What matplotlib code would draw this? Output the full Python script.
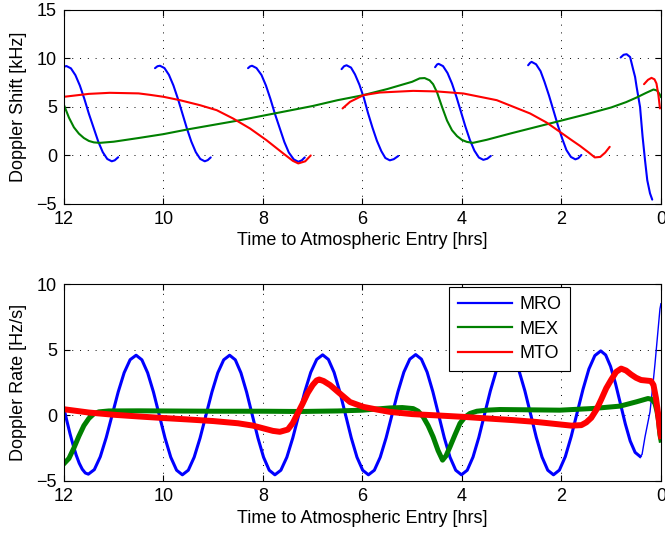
import matplotlib
matplotlib.use("Agg")
import matplotlib.pyplot as plt
from matplotlib.lines import Line2D

plt.rcParams['font.family'] = ['Liberation Sans', 'DejaVu Sans']
plt.rcParams['font.size'] = 13
plt.rcParams['lines.solid_joinstyle'] = 'round'

# ---------------- data: top panel (Doppler shift, kHz) ----------------
mro_shift_t = [
    [12.0, 11.95, 11.86, 11.77, 11.68, 11.59, 11.50, 11.40, 11.31, 11.22, 11.13, 11.04, 10.98, 10.91],
    [10.17, 10.12, 10.07, 9.98, 9.89, 9.80, 9.71, 9.62, 9.53, 9.44, 9.35, 9.26, 9.17, 9.11, 9.05],
    [8.30, 8.26, 8.22, 8.13, 8.03, 7.94, 7.85, 7.76, 7.66, 7.57, 7.48, 7.38, 7.29, 7.22, 7.16],
    [6.42, 6.37, 6.32, 6.23, 6.15, 6.06, 5.97, 5.89, 5.80, 5.71, 5.62, 5.54, 5.45, 5.37, 5.28],
    [4.54, 4.50, 4.47, 4.38, 4.29, 4.20, 4.11, 4.02, 3.93, 3.84, 3.75, 3.66, 3.57, 3.49, 3.42],
    [2.67, 2.63, 2.60, 2.51, 2.42, 2.34, 2.25, 2.16, 2.07, 1.98, 1.90, 1.81, 1.72, 1.66, 1.60],
    [0.81, 0.75, 0.69, 0.62, 0.56, 0.52, 0.49, 0.42, 0.37, 0.32, 0.275, 0.22, 0.175],
]
mro_shift_v = [
    [9.15, 9.22, 8.98, 8.28, 7.20, 5.83, 4.31, 2.79, 1.42, 0.34, -0.36, -0.60, -0.50, -0.18],
    [9.0, 9.2, 9.25, 9.01, 8.31, 7.22, 5.85, 4.33, 2.80, 1.43, 0.34, -0.36, -0.60, -0.48, -0.20],
    [9.0, 9.18, 9.25, 9.01, 8.30, 7.21, 5.83, 4.30, 2.77, 1.39, 0.30, -0.41, -0.65, -0.50, -0.20],
    [8.9, 9.2, 9.30, 9.06, 8.36, 7.28, 5.91, 4.40, 2.89, 1.52, 0.44, -0.26, -0.50, -0.38, -0.05],
    [9.1, 9.38, 9.45, 9.21, 8.50, 7.41, 6.03, 4.50, 2.97, 1.59, 0.50, -0.21, -0.45, -0.33, -0.05],
    [9.3, 9.55, 9.65, 9.40, 8.69, 7.58, 6.18, 4.63, 3.07, 1.67, 0.56, -0.15, -0.40, -0.28, 0.05],
    [10.1, 10.38, 10.44, 10.15, 8.9, 8.1, 7.1, 5.0, 2.0, -0.5, -2.55, -3.9, -4.55],
]

mex_shift_t = [12.0, 11.9, 11.8, 11.7, 11.6, 11.5, 11.4, 11.28, 11.0, 10.5, 10.0, 9.5, 9.0, 8.5,
               8.0, 7.5, 7.0, 6.5, 6.0, 5.5, 5.2, 5.0, 4.85, 4.75, 4.65, 4.58, 4.5, 4.4, 4.3,
               4.2, 4.1, 4.0, 3.9, 3.78, 3.5, 3.0, 2.5, 2.0, 1.5, 1.0, 0.7, 0.5, 0.3, 0.15,
               0.08, 0.03, 0.0]
mex_shift_v = [5.2, 3.9, 2.9, 2.25, 1.8, 1.5, 1.35, 1.3, 1.42, 1.8, 2.2, 2.7, 3.15, 3.6,
               4.1, 4.6, 5.1, 5.7, 6.2, 6.85, 7.3, 7.6, 7.95, 7.98, 7.75, 7.35, 6.5, 5.0, 3.6,
               2.6, 2.0, 1.6, 1.4, 1.3, 1.62, 2.3, 2.95, 3.6, 4.25, 4.95, 5.5, 5.95, 6.45, 6.8,
               6.7, 6.35, 6.04]

mto_shift_t = [
    [12.0, 11.5, 11.08, 10.5, 10.27, 10.0, 9.67, 9.27, 8.93, 8.60, 8.26, 7.93, 7.59, 7.40, 7.29, 7.15, 7.04],
    [6.40, 6.25, 5.98, 5.65, 4.98, 4.5, 3.97, 3.30, 2.63, 2.30, 2.03, 1.80, 1.63, 1.45, 1.33, 1.22, 1.12, 1.03],
    [0.34, 0.26, 0.19, 0.13, 0.09, 0.05, 0.02],
]
mto_shift_v = [
    [6.05, 6.35, 6.46, 6.4, 6.25, 6.05, 5.70, 5.19, 4.67, 3.81, 2.78, 1.58, 0.2, -0.55, -0.82, -0.6, 0.0],
    [4.85, 5.53, 6.22, 6.49, 6.66, 6.6, 6.39, 5.70, 4.33, 3.4, 2.43, 1.6, 1.0, 0.3, -0.2, -0.15, 0.3, 0.89],
    [7.35, 7.8, 8.0, 7.85, 7.42, 6.2, 4.85],
]

# ---------------- data: bottom panel (Doppler rate, Hz/s) ----------------
mro_rate_t = [12.0, 11.939, 11.878, 11.816, 11.755, 11.694, 11.633, 11.571,
              11.51, 11.39, 11.27, 11.15, 11.03, 10.91, 10.79, 10.67,
              10.55, 10.434, 10.318, 10.201, 10.085, 9.969, 9.853, 9.736,
              9.62, 9.501, 9.383, 9.264, 9.145, 9.026, 8.908, 8.789,
              8.67, 8.556, 8.443, 8.329, 8.215, 8.101, 7.988, 7.874,
              7.76, 7.64, 7.52, 7.40, 7.28, 7.16, 7.04, 6.92,
              6.80, 6.685, 6.57, 6.455, 6.34, 6.225, 6.11, 5.995,
              5.88, 5.761, 5.643, 5.524, 5.405, 5.286, 5.168, 5.049,
              4.93, 4.815, 4.70, 4.585, 4.47, 4.355, 4.24, 4.125,
              4.01, 3.894, 3.778, 3.661, 3.545, 3.429, 3.313, 3.196,
              3.08, 2.965, 2.85, 2.735, 2.62, 2.505, 2.39, 2.275,
              2.16, 2.041, 1.923, 1.804, 1.685, 1.566, 1.448, 1.329,
              1.21, 1.111, 1.013, 0.914, 0.815, 0.716, 0.618, 0.519,
              0.42]
mro_rate_v = [0.5, -0.48, -1.42, -2.28, -3.04, -3.66, -4.12, -4.41,
              -4.5, -4.155, -3.17, -1.70, 0.035, 1.77, 3.24, 4.23,
              4.57, 4.22, 3.23, 1.76, 0.01, -1.74, -3.21, -4.20,
              -4.55, -4.20, -3.21, -1.74, 0.01, 1.76, 3.23, 4.22,
              4.57, 4.22, 3.23, 1.76, 0.01, -1.74, -3.21, -4.20,
              -4.55, -4.20, -3.21, -1.73, 0.03, 1.78, 3.26, 4.25,
              4.60, 4.25, 3.26, 1.78, 0.03, -1.73, -3.21, -4.20,
              -4.55, -4.20, -3.21, -1.72, 0.04, 1.79, 3.28, 4.27,
              4.62, 4.27, 3.28, 1.79, 0.04, -1.72, -3.21, -4.20,
              -4.55, -4.20, -3.20, -1.70, 0.08, 1.85, 3.35, 4.35,
              4.70, 4.35, 3.35, 1.85, 0.08, -1.70, -3.20, -4.20,
              -4.55, -4.19, -3.17, -1.63, 0.18, 1.98, 3.52, 4.54,
              4.90, 4.59, 3.72, 2.42, 0.88, -0.67, -1.97, -2.84,
              -3.15]
mro_rate_end_t = [0.42, 0.38, 0.32, 0.27, 0.22, 0.17, 0.12, 0.07, 0.02, 0.0]
mro_rate_end_v = [-3.15, -3.0, -1.65, -0.7, 0.25, 2.0, 3.9, 6.0, 8.1, 8.5]

mex_rate_t = [12.0, 11.9, 11.8, 11.7, 11.6, 11.5, 11.4, 11.3, 11.1, 10.5, 9.0, 8.0, 7.26,
              6.5, 6.0, 5.45, 5.2, 4.98, 4.88, 4.78, 4.68, 4.58, 4.48, 4.39, 4.32, 4.24,
              4.14, 4.04, 3.94, 3.84, 3.70, 3.50, 3.24, 2.5, 2.03, 1.36, 0.82, 0.49, 0.26,
              0.18, 0.12, 0.08, 0.05, 0.02, 0.0]
mex_rate_v = [-3.7, -3.3, -2.5, -1.6, -0.8, -0.25, 0.1, 0.25, 0.32, 0.33, 0.3, 0.3, 0.28,
              0.32, 0.38, 0.55, 0.58, 0.5, 0.3, -0.13, -0.8, -1.65, -2.7, -3.43, -3.1, -2.41,
              -1.5, -0.63, -0.15, 0.13, 0.3, 0.38, 0.43, 0.4, 0.38, 0.51, 0.69, 1.02, 1.27,
              1.2, 0.89, 0.3, -0.38, -1.5, -1.9]

mto_rate_t = [12.0, 11.5, 11.0, 10.5, 10.0, 9.5, 9.0, 8.5, 8.2, 8.0, 7.8, 7.66, 7.5, 7.4,
              7.32, 7.2, 7.1, 7.0, 6.92, 6.87, 6.78, 6.65, 6.5, 6.25, 5.98, 5.7, 5.45, 5.0,
              4.5, 3.97, 3.5, 2.97, 2.5, 2.0, 1.8, 1.6, 1.5, 1.4, 1.3, 1.2, 1.1, 1.0, 0.9,
              0.8, 0.7, 0.6, 0.5, 0.4, 0.3, 0.2, 0.15, 0.1, 0.06, 0.02, 0.0]
mto_rate_v = [0.45, 0.2, 0.03, -0.1, -0.22, -0.33, -0.45, -0.62, -0.8, -1.0, -1.2, -1.27,
              -1.1, -0.6, 0.0, 0.9, 1.7, 2.3, 2.65, 2.72, 2.6, 2.29, 1.8, 1.0, 0.63, 0.42,
              0.25, 0.08, -0.02, -0.13, -0.25, -0.38, -0.52, -0.72, -0.8, -0.76, -0.55,
              -0.2, 0.4, 1.2, 2.05, 2.7, 3.3, 3.55, 3.4, 3.1, 2.85, 2.68, 2.64, 2.6, 2.3,
              1.3, 0.2, -1.1, -1.6]

x_ticks = [12, 10, 8, 6, 4, 2, 0]
x_ticklabels = ['12', '10', '8', '6', '4', '2', '0']
shift_ticks = [-5, 0, 5, 10, 15]
rate_ticks = [-5, 0, 5, 10]
series_names = ['MRO', 'MEX', 'MTO']

BLUE = (0, 0, 1)
GREEN = (0, 0.5, 0)
RED = (1, 0, 0)

fig = plt.figure(figsize=(6.65, 5.33), dpi=100)
ax1 = fig.add_axes([0.0962, 0.6173, 0.8977, 0.3640])
ax2 = fig.add_axes([0.0962, 0.0981, 0.8977, 0.3690])


def style(ax, yticks):
    ax.set_xlim(12, 0)
    ax.set_ylim(yticks[0], yticks[-1])
    ax.set_xticks(x_ticks)
    ax.set_xticklabels(x_ticklabels)
    ax.set_yticks(yticks)
    ax.tick_params(direction='in', length=4, width=0.8, top=True, right=True,
                   labelsize=13, pad=5, colors='black')
    for sp in ax.spines.values():
        sp.set_linewidth(0.8)
        sp.set_color('black')
    ax.grid(True, linestyle=(0, (1, 7)), linewidth=0.7, color='black')
    ax.set_axisbelow(True)


# top panel
for t, v in zip(mro_shift_t, mro_shift_v):
    ax1.plot(t, v, color=BLUE, lw=1.5, solid_capstyle='round')
ax1.plot(mex_shift_t, mex_shift_v, color=GREEN, lw=1.5)
for t, v in zip(mto_shift_t, mto_shift_v):
    ax1.plot(t, v, color=RED, lw=1.5, solid_capstyle='round')
style(ax1, shift_ticks)
ax1.set_ylabel('Doppler Shift [kHz]', fontsize=13)
ax1.set_xlabel('Time to Atmospheric Entry [hrs]', fontsize=13)
ax1.yaxis.set_label_coords(-0.062, 0.5)
ax1.xaxis.set_label_coords(0.5, -0.145)

# bottom panel
ax2.plot(mro_rate_t, mro_rate_v, color=BLUE, lw=2.2)
ax2.plot(mro_rate_end_t, mro_rate_end_v, color=BLUE, lw=1.0)
ax2.plot(mex_rate_t, mex_rate_v, color=GREEN, lw=3.6)
ax2.plot(mto_rate_t, mto_rate_v, color=RED, lw=4.3)
style(ax2, rate_ticks)
ax2.set_ylabel('Doppler Rate [Hz/s]', fontsize=13)
ax2.set_xlabel('Time to Atmospheric Entry [hrs]', fontsize=13)
ax2.yaxis.set_label_coords(-0.062, 0.5)
ax2.xaxis.set_label_coords(0.5, -0.15)

handles = [Line2D([], [], color=c, lw=1.6) for c in (BLUE, GREEN, RED)]
leg = ax2.legend(handles, series_names, loc='upper left', bbox_to_anchor=(0.645, 0.985),
                 frameon=True, fancybox=False, framealpha=1, edgecolor='black',
                 fontsize=13, handlelength=3.0, handletextpad=0.4, labelspacing=0.42,
                 borderpad=0.5, borderaxespad=0.0)
leg.get_frame().set_linewidth(0.8)

fig.savefig('out.png', dpi=100)
